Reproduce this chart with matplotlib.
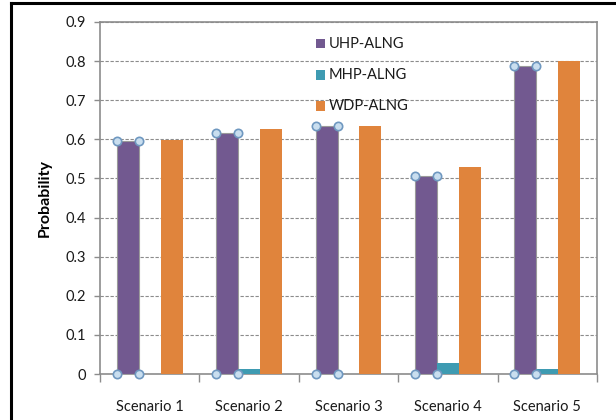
import matplotlib
matplotlib.use("Agg")
import matplotlib.pyplot as plt
import numpy as np
from matplotlib.lines import Line2D
from matplotlib.patches import Rectangle

plt.rcParams['font.family'] = ['Lato', 'DejaVu Sans']

scenarios = ["Scenario 1", "Scenario 2", "Scenario 3", "Scenario 4", "Scenario 5"]
uhp_alng = [0.595, 0.615, 0.633, 0.505, 0.788]
mhp_alng = [0.0, 0.013, 0.0, 0.027, 0.013]
wdp_alng = [0.598, 0.627, 0.633, 0.530, 0.800]
series_names = ["UHP-ALNG", "MHP-ALNG", "WDP-ALNG"]
colors = ["#725990", "#3e9bb2", "#e0843c"]
y_ticks = [0.0, 0.1, 0.2, 0.3, 0.4, 0.5, 0.6, 0.7, 0.8, 0.9]

fig = plt.figure(figsize=(6.16, 4.2), dpi=100)
ax = fig.add_axes([100 / 616, 46 / 420, 497 / 616, 352 / 420])

x = np.arange(len(scenarios))
w = 0.22
series = [uhp_alng, mhp_alng, wdp_alng]
for i, (vals, c) in enumerate(zip(series, colors)):
    kw = dict(color=c, width=w, zorder=3)
    if i == 0:
        kw.update(edgecolor="#9a9a9a", linewidth=0.8)
    else:
        kw.update(linewidth=0)
    ax.bar(x + (i - 1) * w, vals, **kw)

# selection handles on the corners of the first series
left = x - 1.5 * w
right = x - 0.5 * w
hx = np.concatenate([left, right, left, right])
hy = np.concatenate([uhp_alng, uhp_alng, np.zeros(len(x)), np.zeros(len(x))])
ax.plot(hx, hy, ls="none", marker="o", ms=6, mfc="#c9deef", mec="#6f98c0",
        mew=1.2, zorder=5, clip_on=False)

ax.set_xlim(-0.5, len(scenarios) - 0.5)
ax.set_ylim(0, 0.9)
ax.set_yticks(y_ticks)
ax.set_yticklabels([f"{v:g}" for v in y_ticks])
ax.set_xticks(x)
ax.set_xticklabels(scenarios)
ax.set_xticks(np.arange(-0.5, len(scenarios)), minor=True)
ax.tick_params(axis="x", which="major", length=0, pad=19, labelsize=10.5, labelcolor="#1a1a1a")
ax.tick_params(axis="x", which="minor", length=6, width=1, color="#8c8c8c", direction="out")
ax.tick_params(axis="y", length=4, width=1, color="#8c8c8c", pad=6, labelsize=10.5, labelcolor="#1a1a1a")

ax.yaxis.grid(True, color="#8c8c8c", linestyle=(0, (3, 1.5)), linewidth=0.8, zorder=0)
ax.set_axisbelow(True)
for s in ax.spines.values():
    s.set_color("#8c8c8c")
    s.set_linewidth(1.2)

ax.set_ylabel("Probability", fontsize=11.5, fontweight="bold", labelpad=10)

# legend entries
for i, (name, c) in enumerate(zip(series_names, colors)):
    yc = (420 - (44 + 31 * i)) / 420
    fig.add_artist(Rectangle((316 / 616, yc - 4.5 / 420), 9 / 616, 9 / 420,
                             transform=fig.transFigure, color=c, lw=0))
    fig.text(329 / 616, yc, name, fontsize=10.5, va="center", ha="left", color="#1a1a1a")

# outer frame
fig.add_artist(Line2D([11 / 616, 11 / 616], [0, 1 - 3 / 420], transform=fig.transFigure,
                      color="black", lw=2.2))
fig.add_artist(Line2D([11 / 616, 1], [1 - 3 / 420, 1 - 3 / 420], transform=fig.transFigure,
                      color="black", lw=2.2))

fig.savefig("out.png", dpi=100)
